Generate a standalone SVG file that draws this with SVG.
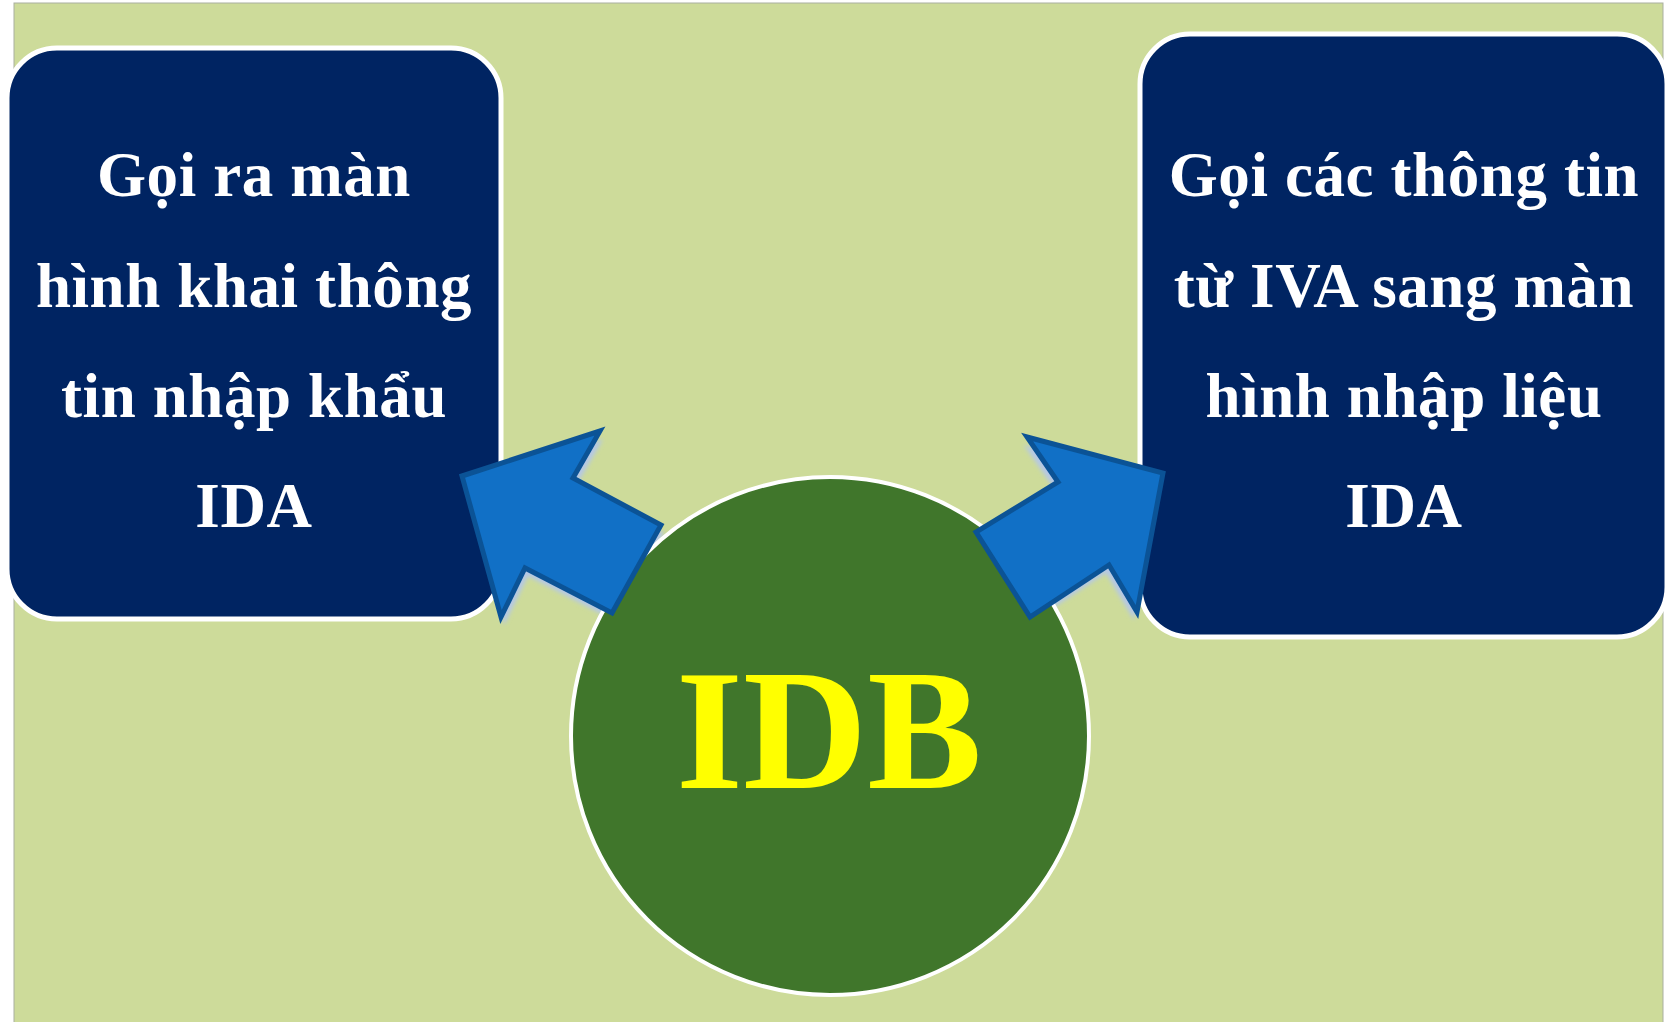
<svg xmlns="http://www.w3.org/2000/svg" width="1669" height="1022" viewBox="0 0 1669 1022">
  <style>
    .box { fill: #002462; stroke: #ffffff; stroke-width: 5; }
    .lbl { font-family: "Liberation Serif", "Times New Roman", serif; font-weight: bold; font-size: 63px; letter-spacing: 0.6px; fill: #ffffff; text-anchor: middle; }
    .arrow { fill: #1170C6; stroke: #0B5396; stroke-width: 5; stroke-linejoin: miter; }
    .shadow { fill: #B4C7E7; filter: url(#blur); }
  </style>
  <defs>
    <filter id="blur" x="-20%" y="-20%" width="140%" height="140%">
      <feGaussianBlur stdDeviation="2"/>
    </filter>
  </defs>
  <rect x="14" y="3" width="1649" height="1030" fill="#CDDB9A" stroke="#A9AFA0" stroke-width="1"/>
  <g id="shadows">
    <polygon class="shadow" transform="translate(3,8)" points="462,476 600,431 573,478 661,525 612,613 525,568 501,617"/>
    <polygon class="shadow" transform="translate(-3,8)" points="1163,473 1137,612 1109,565 1030,617 976,532 1058,482 1027,437"/>
  </g>
  <g id="node-left">
    <rect class="box" x="7" y="48" width="494" height="571" rx="50" ry="50"/>
    <text class="lbl" x="254" y="196">Gọi ra màn</text>
    <text class="lbl" x="254" y="307">hình khai thông</text>
    <text class="lbl" x="254" y="417">tin nhập khẩu</text>
    <text class="lbl" x="254" y="527">IDA</text>
  </g>
  <g id="node-right">
    <rect class="box" x="1140" y="34" width="527" height="603" rx="50" ry="50"/>
    <text class="lbl" x="1404" y="196">Gọi các thông tin</text>
    <text class="lbl" x="1404" y="307">từ IVA sang màn</text>
    <text class="lbl" x="1404" y="417">hình nhập liệu</text>
    <text class="lbl" x="1404" y="527">IDA</text>
  </g>
  <g id="node-idb">
    <circle cx="830" cy="736" r="259" fill="#40762B" stroke="#ffffff" stroke-width="4"/>
    <text x="829" y="788" font-family="Liberation Serif, 'Times New Roman', serif" font-weight="bold" font-size="172" fill="#FFFF00" text-anchor="middle">IDB</text>
  </g>
  <g id="connectors">
    <polygon class="arrow" points="462,476 600,431 573,478 661,525 612,613 525,568 501,617"/>
    <polygon class="arrow" points="1163,473 1137,612 1109,565 1030,617 976,532 1058,482 1027,437"/>
  </g>
</svg>
